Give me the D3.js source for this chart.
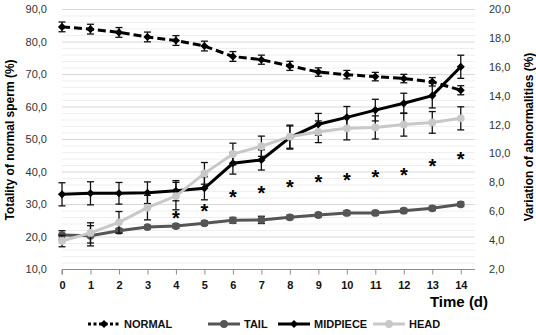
<!DOCTYPE html>
<html>
<head>
<meta charset="utf-8">
<script src="https://cdn.jsdelivr.net/npm/d3@7"></script>
<style>
  body { margin: 0; background: #fff; }
  svg { display: block; font-family: "Liberation Sans", Arial, sans-serif; }
</style>
</head>
<body>
<div id="chart"></div>
<script>
// values
const days = [0, 1, 2, 3, 4, 5, 6, 7, 8, 9, 10, 11, 12, 13, 14];

// left axis: totality of normal sperm (%)
const normal    = [84.5, 83.8, 82.8, 81.4, 80.3, 78.6, 75.4, 74.4, 72.5, 70.6, 69.8, 69.2, 68.6, 67.6, 65.0];
const normalErr = [1.5, 1.5, 1.5, 1.5, 1.5, 1.5, 1.5, 1.4, 1.4, 1.3, 1.3, 1.3, 1.3, 1.3, 1.4];

// right axis: variation of abnormalities (%)
const tail     = [4.35, 4.3, 4.65, 4.9, 4.97, 5.17, 5.37, 5.4, 5.58, 5.74, 5.88, 5.88, 6.04, 6.2, 6.48];
const tailErr  = [0.3, 0.7, 0.15, 0.12, 0.15, 0.15, 0.2, 0.25, 0.15, 0.15, 0.15, 0.15, 0.15, 0.15, 0.15];
const midpiece = [7.17, 7.24, 7.24, 7.28, 7.42, 7.59, 9.32, 9.55, 11.1, 12.02, 12.5, 13.0, 13.47, 14.0, 16.0];
const midErr   = [0.8, 0.8, 0.75, 0.75, 0.7, 0.8, 0.75, 0.7, 0.8, 0.75, 0.75, 0.75, 0.7, 0.85, 0.8];
const head     = [3.94, 4.5, 5.23, 6.25, 7.05, 8.62, 9.96, 10.5, 11.16, 11.5, 11.74, 11.8, 12.0, 12.15, 12.43];
const headErr  = [0.4, 0.7, 0.75, 0.85, 0.95, 0.75, 0.75, 0.7, 0.8, 0.75, 0.8, 0.8, 0.8, 0.75, 0.8];

// significance marks (right axis units)
const starDays = [4, 5, 6, 7, 8, 9, 10, 11, 12, 13, 14];
const starVals = [5.74, 6.25, 7.26, 7.47, 7.95, 8.3, 8.4, 8.58, 8.78, 9.36, 9.89];

const leftTicks  = [10, 20, 30, 40, 50, 60, 70, 80, 90];
const rightTicks = [2, 4, 6, 8, 10, 12, 14, 16, 18, 20];

const width = 536, height = 335;
const svg = d3.select("#chart").append("svg")
  .attr("width", width).attr("height", height);

const x = d3.scaleLinear().domain([0, 14.5]).range([62, 475]);
const yL = d3.scaleLinear().domain([10, 90]).range([269, 9]);
const yR = d3.scaleLinear().domain([2, 20]).range([269, 9]);
const fmt = d => d3.format(".1f")(d).replace(".", ",");

// gridlines: minor every 2, major every 10 (left axis)
svg.append("g").selectAll("line")
  .data(d3.range(10, 90.1, 2).filter(v => v % 10 !== 0))
  .join("line")
  .attr("x1", x(0)).attr("x2", x(14.5))
  .attr("y1", d => yL(d) + 0.5).attr("y2", d => yL(d) + 0.5)
  .attr("stroke", "#efefef");
svg.append("g").selectAll("line")
  .data(leftTicks.filter(v => v > 10))
  .join("line")
  .attr("x1", x(0)).attr("x2", x(14.5))
  .attr("y1", d => yL(d) + 0.5).attr("y2", d => yL(d) + 0.5)
  .attr("stroke", "#d9d9d9");

// x axis
const xAxis = svg.append("g")
  .attr("transform", `translate(0,${yL(10) + 0.5})`)
  .call(d3.axisBottom(x).tickValues(days).tickSize(5).tickPadding(7).tickFormat(d3.format("d")));
xAxis.select(".domain").attr("stroke", "#8c8c8c").attr("d", `M${x(0)},5V0H${x(14.5)}`);
xAxis.selectAll(".tick line").attr("stroke", "#8c8c8c");
xAxis.selectAll("text").attr("font-size", 11).attr("font-weight", "bold")
  .attr("fill", "#111").attr("font-family", "Liberation Sans, Arial, sans-serif");

// y tick labels
svg.append("g").selectAll("text").data(leftTicks).join("text")
  .attr("x", 47).attr("y", d => yL(d) + 4)
  .attr("text-anchor", "end").attr("font-size", 11).attr("fill", "#333")
  .text(fmt);
svg.append("g").selectAll("text").data(rightTicks).join("text")
  .attr("x", 489).attr("y", d => yR(d) + 4)
  .attr("font-size", 11).attr("fill", "#333")
  .text(fmt);

// axis titles
svg.append("text")
  .attr("transform", "translate(14,140) rotate(-90)")
  .attr("text-anchor", "middle").attr("font-size", 12).attr("font-weight", "bold")
  .text("Totality of normal sperm (%)");
svg.append("text")
  .attr("transform", "translate(533,137) rotate(-90)")
  .attr("text-anchor", "middle").attr("font-size", 12).attr("font-weight", "bold")
  .text("Variation of abnormalities (%)");
svg.append("text")
  .attr("x", 459).attr("y", 307)
  .attr("text-anchor", "middle").attr("font-size", 15).attr("font-weight", "bold")
  .text("Time (d)");

const series = [
  { name: "NORMAL", vals: normal, err: normalErr, y: yL, color: "#000", dash: "8,4", marker: "diamond" },
  { name: "TAIL", vals: tail, err: tailErr, y: yR, color: "#555", dash: null, marker: "circle" },
  { name: "MIDPIECE", vals: midpiece, err: midErr, y: yR, color: "#000", dash: null, marker: "diamond" },
  { name: "HEAD", vals: head, err: headErr, y: yR, color: "#c8c8c8", dash: null, marker: "circle" }
];

const diamond = d3.symbol(d3.symbolDiamond2, 42);

function drawMarker(g, marker, color) {
  if (marker === "diamond") {
    g.append("path").attr("d", diamond()).attr("fill", color);
  } else {
    g.append("circle").attr("r", 3.9).attr("fill", color);
  }
}

series.forEach(s => {
  const g = svg.append("g");
  const pts = days.map((d, i) => ({ d, v: s.vals[i], e: s.err[i] }));

  g.append("path")
    .attr("d", d3.line().x(p => x(p.d)).y(p => s.y(p.v))(pts))
    .attr("fill", "none").attr("stroke", s.color).attr("stroke-width", 3)
    .attr("stroke-dasharray", s.dash);

  // error bars
  const eb = g.selectAll(".eb").data(pts).join("g");
  eb.append("line")
    .attr("x1", p => x(p.d)).attr("x2", p => x(p.d))
    .attr("y1", p => s.y(p.v - p.e)).attr("y2", p => s.y(p.v + p.e))
    .attr("stroke", "#111").attr("stroke-width", 1.3);
  [-1, 1].forEach(sign => {
    eb.append("line")
      .attr("x1", p => x(p.d) - 3.5).attr("x2", p => x(p.d) + 3.5)
      .attr("y1", p => s.y(p.v + sign * p.e)).attr("y2", p => s.y(p.v + sign * p.e))
      .attr("stroke", "#111").attr("stroke-width", 1.3);
  });

  g.selectAll(".mk").data(pts).join("g")
    .attr("transform", p => `translate(${x(p.d)},${s.y(p.v)})`)
    .each(function() { drawMarker(d3.select(this), s.marker, s.color); });
});

// asterisks
svg.append("g").selectAll("text").data(starDays).join("text")
  .attr("x", d => x(d)).attr("y", (d, i) => yR(starVals[i]) + 10.5)
  .attr("text-anchor", "middle").attr("font-size", 20).attr("font-weight", "bold")
  .text("*");

// legend
const legend = [
  { name: "NORMAL", x0: 88, color: "#000", dash: "3,2.5", marker: "diamond" },
  { name: "TAIL", x0: 208, color: "#555", dash: null, marker: "circle" },
  { name: "MIDPIECE", x0: 278, color: "#000", dash: null, marker: "diamond" },
  { name: "HEAD", x0: 373, color: "#c8c8c8", dash: null, marker: "circle" }
];
const lg = svg.append("g").selectAll("g").data(legend).join("g")
  .attr("transform", d => `translate(${d.x0},324)`);
lg.append("line").attr("x1", 0).attr("x2", 32)
  .attr("stroke", d => d.color).attr("stroke-width", 3)
  .attr("stroke-dasharray", d => d.dash);
lg.append("g").attr("transform", "translate(16,0)")
  .each(function(d) { drawMarker(d3.select(this), d.marker, d.color); });
lg.append("text").attr("x", 36).attr("y", 4)
  .attr("font-size", 11).attr("font-weight", "bold").attr("fill", "#111")
  .text(d => d.name);
</script>
</body>
</html>
